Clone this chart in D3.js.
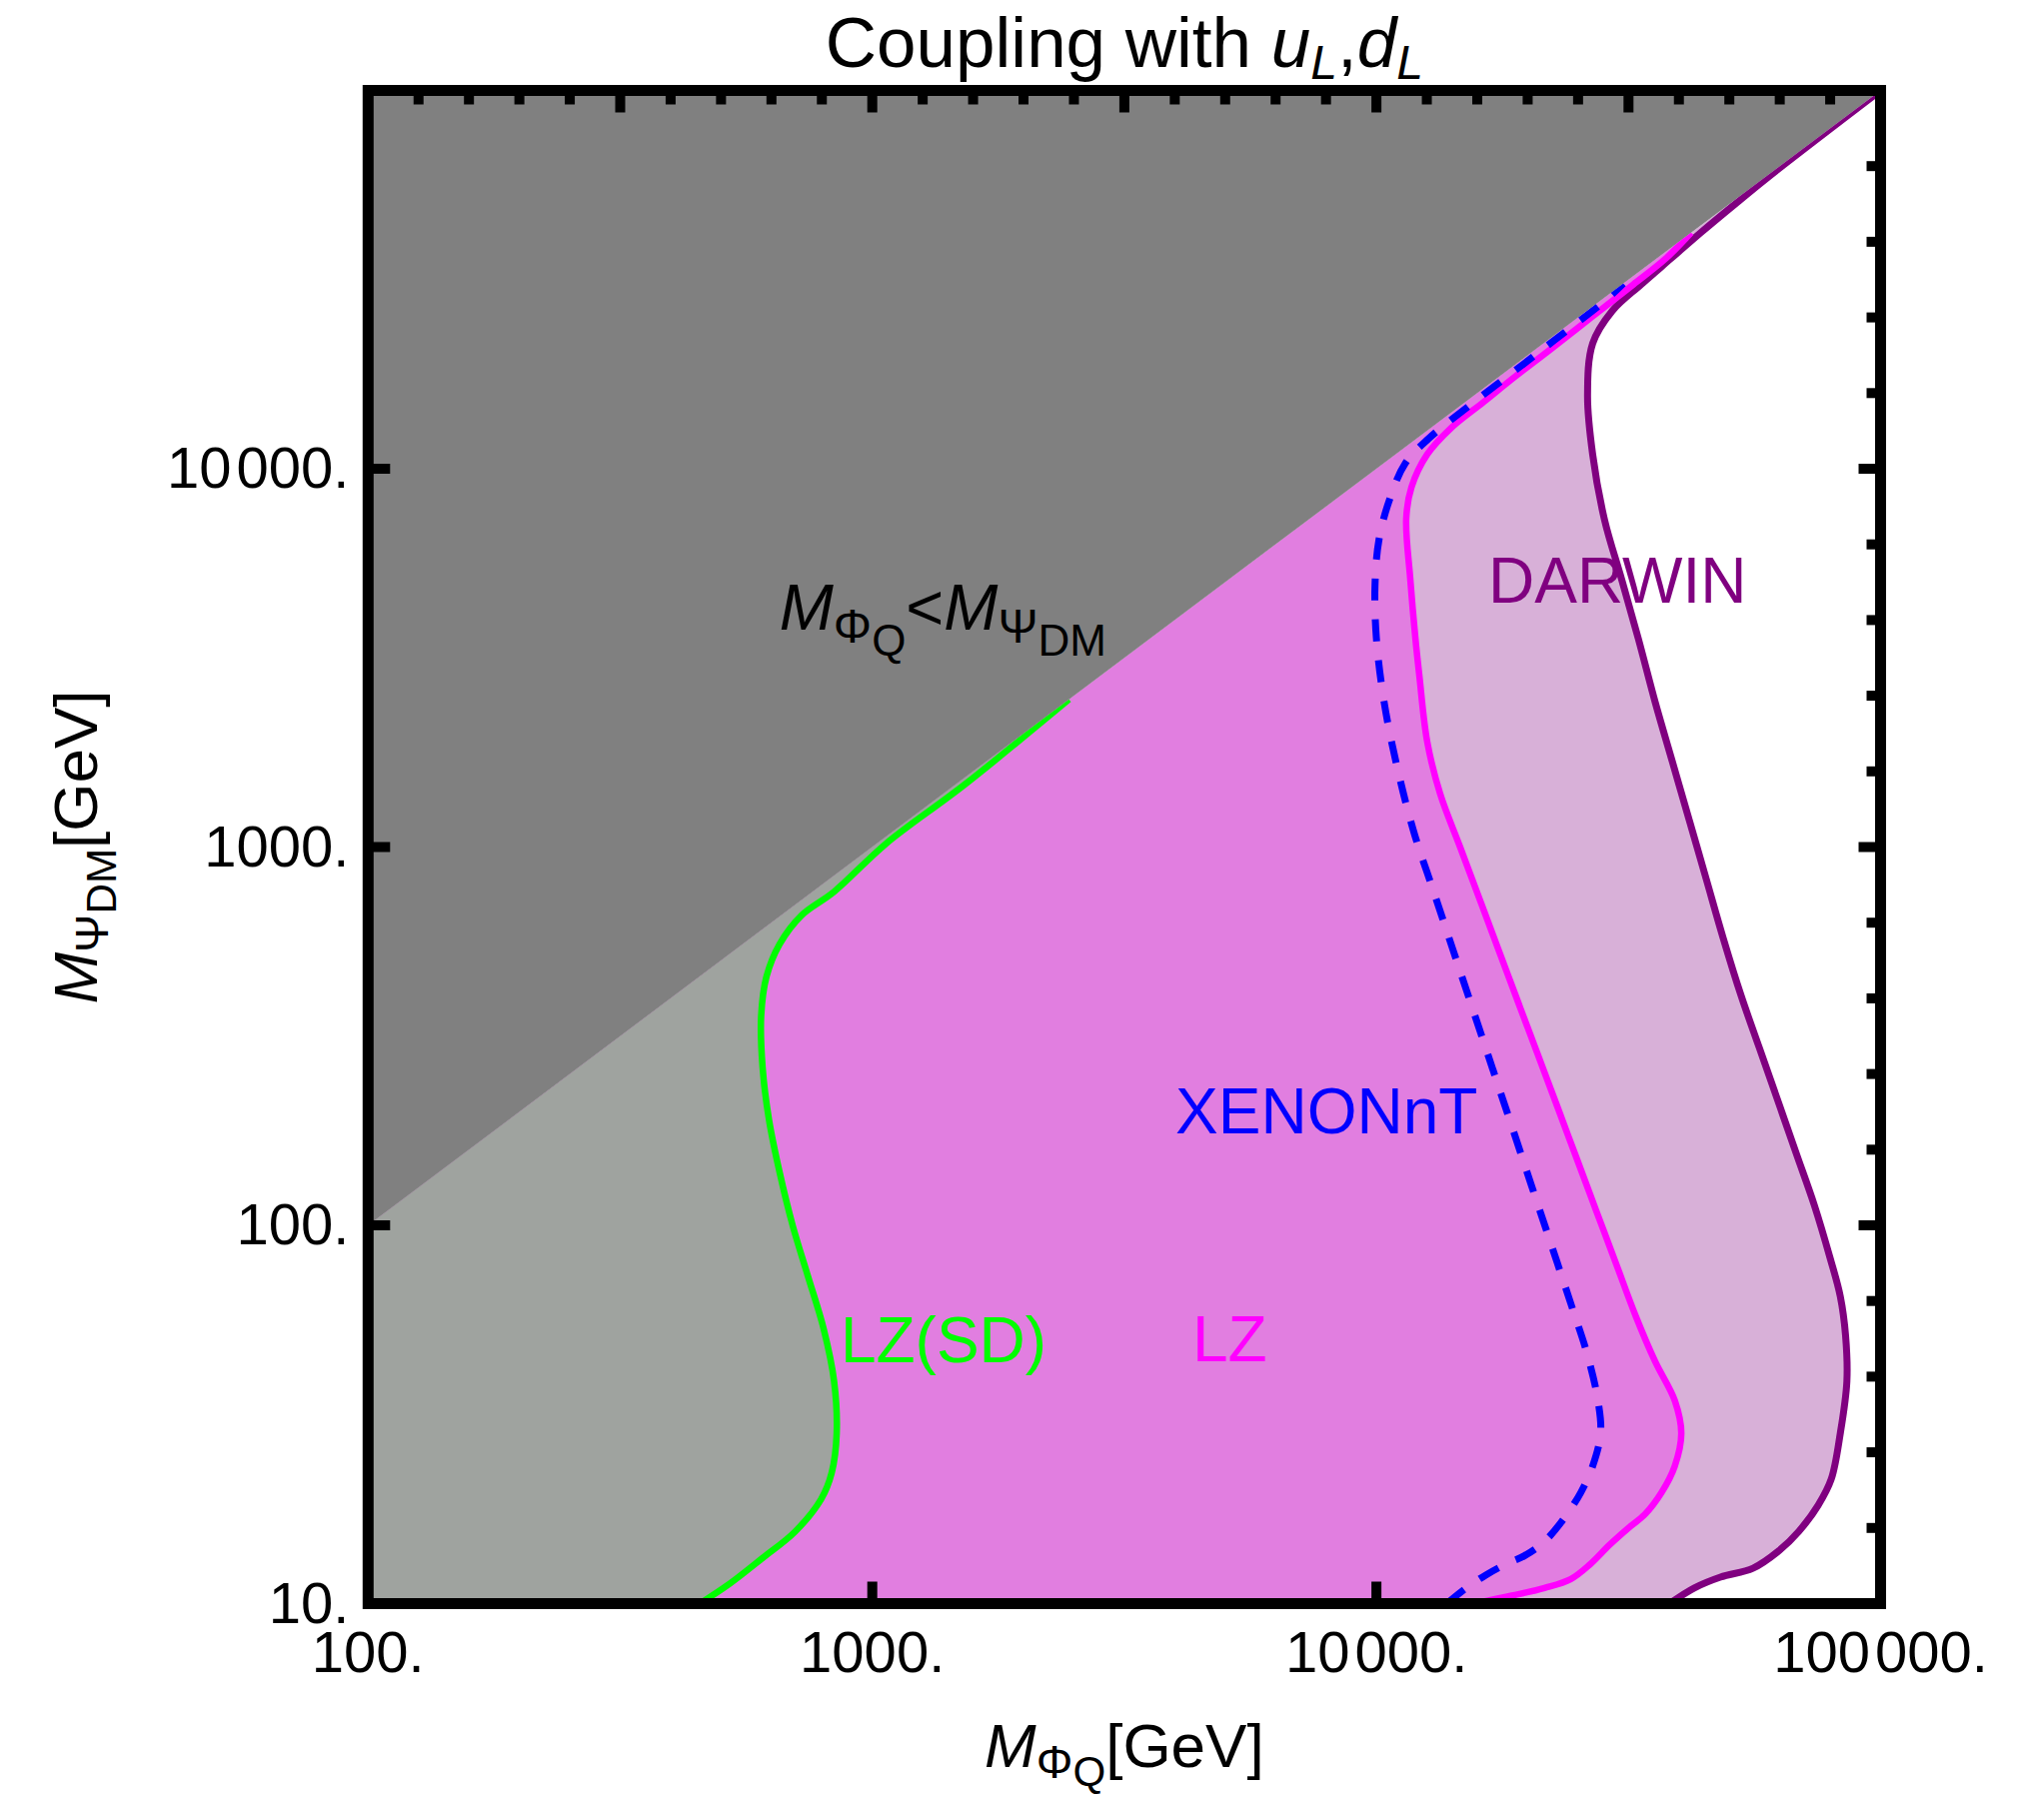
<!DOCTYPE html>
<html>
<head>
<meta charset="utf-8">
<script src="https://d3js.org/d3.v7.min.js"></script>
<style>
  body { margin: 0; background: #fff; }
  svg text { font-family: "Liberation Sans", Arial, sans-serif; }
</style>
</head>
<body>
<script>
// axis ranges and ticks
var xDomain = [100, 100000];
var yDomain = [10, 100000];
var xTickValues = [100, 1000, 10000, 100000];
var xTickLabels = [["100."], ["1000."], ["10", "000."], ["100", "000."]];
var yTickValues = [10, 100, 1000, 10000];
var yTickLabels = [["10."], ["100."], ["1000."], ["10", "000."]];

// exclusion contours, M_PhiQ (x) vs M_PsiDM (y) in GeV
var lzsdPhi = [455,522,606,703,792,831,850,840,801,746,695,655,624,606,602,617,655,724,840,1066,1524,2455];
var lzsdPsi = [10,11.3,13.2,15.5,18.9,22.2,28.2,38.7,53.2,73.1,100,138,190,261,358,455,554,660,762,1022,1461,2455];

var lzPhi = [15620,18570,21550,24270,26530,29010,31720,34070,36810,39070,40250,39070,35730,32680,29890,27330,25000,22870,20910,19120,17490,16000,14630,13380,12610,12170,11950,11670,11460,11740,12610,14040,16290,18900,22070,26690,32290,37480,42090];
var lzPsi = [10,10.5,11.0,11.6,12.7,14.3,15.9,17.2,19.7,23.1,28.2,34.4,43.6,57.6,79.1,108.7,149.4,205.3,282.2,387.7,532.6,732,1006,1382,1900,2827,3558,5129,7393,8946,10910,12790,14990,17580,20610,25130,30660,35940,42090];

var xenonPhi = [13790,15080,16480,18020,19700,21550,23560,25450,26850,27840,27510,26220,24270,22200,20300,18570,16980,15530,14200,12990,11880,11000,10360,9995,9936,10120,10610,11400,12690,15260,19700,23700,28250,30880];
var xenonPsi = [10,11.0,11.9,12.7,13.4,14.6,16.8,19.7,23.1,28.2,34.4,45.4,62.4,89.2,127.5,182.3,260.6,372.6,532.8,762,1089,1621,2412,3588,4931,6511,8263,10320,12010,14650,19030,23030,27650,30880];

var darwinPhi = [38150,42720,48120,55840,62890,68770,75200,79800,83200,85740,85230,83200,79340,73880,67960,62540,57530,52930,48690,45080,41720,38610,35730,33070,30610,28340,26850,26230,26850,29370,33460,38380,44020,50790,60000,100000];
var darwinPsi = [10,11.0,11.75,12.4,13.8,15.5,18.2,21.3,28.2,38.7,51.1,64.9,82.3,113.1,155.5,213.7,293.6,403.5,576.9,824.9,1180,1687,2412,3558,5129,7335,10910,15600,21440,26150,30660,35940,42120,49380,59200,100000];

var W = 2045, H = 1801;
var svg = d3.select("body").append("svg").attr("width", W).attr("height", H);

var x = d3.scaleLog().domain(xDomain).range([368.3, 1881.5]);
var y = d3.scaleLog().domain(yDomain).range([1604.5, 90.5]);

var zip = function(a, b){ return a.map(function(v, i){ return [v, b[i]]; }); };
var line = d3.line()
	.x(function(d){ return x(d[0]); })
	.y(function(d){ return y(d[1]); })
	.curve(d3.curveCatmullRom.alpha(0.5));
var pt = function(a, b){ return x(a) + "," + y(b); };

// region left of a contour and below the diagonal
var region = function(pts){
	return line(pts) + "L" + pt(100, 100) + "L" + pt(100, 10) + "Z";
};

var lzsd = zip(lzsdPhi, lzsdPsi);
var lz = zip(lzPhi, lzPsi);
var xenon = zip(xenonPhi, xenonPsi);
var darwin = zip(darwinPhi, darwinPsi);

svg.append("rect")
	.attr("x", x(100)).attr("y", y(100000))
	.attr("width", x(100000) - x(100)).attr("height", y(10) - y(100000))
	.attr("fill", "#ffffff");

svg.append("path").attr("d", region(darwin)).attr("fill", "#d8b0d8");
svg.append("path").attr("d", region(lz)).attr("fill", "#e17ee0");
svg.append("path").attr("d", region(lzsd)).attr("fill", "#9fa39f");

// M_Phi < M_Psi triangle
svg.append("path")
	.attr("d", "M" + pt(100, 100) + "L" + pt(100000, 100000) + "L" + pt(100, 100000) + "Z")
	.attr("fill", "#808080");

svg.append("clipPath").attr("id", "below")
	.append("path")
	.attr("d", "M" + pt(100, 10) + "L" + pt(100000, 10) + "L" + pt(100000, 100000) + "L" + pt(100, 100) + "Z");

var lines = svg.append("g").attr("clip-path", "url(#below)").attr("fill", "none");
lines.append("path").attr("d", line(darwin)).attr("stroke", "#800080").attr("stroke-width", 7);
lines.append("path").attr("d", line(lz)).attr("stroke", "#ff00ff").attr("stroke-width", 6.5);
lines.append("path").attr("d", line(xenon)).attr("stroke", "#0000ff").attr("stroke-width", 7)
	.attr("stroke-dasharray", "22,19");
lines.append("path").attr("d", line(lzsd)).attr("stroke", "#00ff00").attr("stroke-width", 6.5);

// frame and ticks
var ticks = svg.append("g").attr("stroke", "#000").attr("stroke-width", 10);
xTickValues.slice(1, -1).forEach(function(v){
	ticks.append("line").attr("x1", x(v)).attr("x2", x(v)).attr("y1", y(10)).attr("y2", y(10) - 22);
});
yTickValues.slice(1).forEach(function(v){
	ticks.append("line").attr("x1", x(100)).attr("x2", x(100) + 22).attr("y1", y(v)).attr("y2", y(v));
});
d3.range(1, 30).forEach(function(k){
	var v = Math.pow(10, 2 + k / 10), len = (k % 5 == 0) ? 22 : 14;
	ticks.append("line").attr("x1", x(v)).attr("x2", x(v)).attr("y1", y(100000)).attr("y2", y(100000) + len);
});
d3.range(1, 20).forEach(function(k){
	var v = Math.pow(10, 1 + k / 5), len = (k % 5 == 0) ? 22 : 14;
	ticks.append("line").attr("x1", x(100000)).attr("x2", x(100000) - len).attr("y1", y(v)).attr("y2", y(v));
});
svg.append("rect")
	.attr("x", x(100)).attr("y", y(100000))
	.attr("width", x(100000) - x(100)).attr("height", y(10) - y(100000))
	.attr("fill", "none").attr("stroke", "#000").attr("stroke-width", 11);

// tick labels (thin gap between digit groups)
var addNum = function(t, parts){
	t.text(parts[0]);
	if (parts.length > 1) t.append("tspan").attr("dx", 5).text(parts[1]);
};
xTickValues.forEach(function(v, i){
	var t = svg.append("text").attr("x", x(v)).attr("y", y(10) + 68.5)
		.attr("text-anchor", "middle").attr("font-size", 58);
	addNum(t, xTickLabels[i]);
});
yTickValues.forEach(function(v, i){
	var t = svg.append("text").attr("x", x(100) - 19).attr("y", y(v) + 19)
		.attr("text-anchor", "end").attr("font-size", 58);
	addNum(t, yTickLabels[i]);
});

// M with nested subscripts
var mathLabel = function(t, s, sub, subsub, tail){
	t.append("tspan").attr("font-style", "italic").attr("font-size", s).text("M");
	t.append("tspan").attr("font-size", s * 0.74).attr("dy", s * 0.17).text(sub);
	t.append("tspan").attr("font-size", s * 0.68).attr("dy", s * 0.13).text(subsub);
	if (tail) t.append("tspan").attr("font-size", s).attr("dy", -s * 0.3).text(tail);
};

// title
var title = svg.append("text").attr("x", (x(100) + x(100000)) / 2).attr("y", 67)
	.attr("text-anchor", "middle").attr("font-size", 71);
title.append("tspan").text("Coupling with ");
title.append("tspan").attr("font-style", "italic").text("u");
title.append("tspan").attr("font-style", "italic").attr("font-size", 48).attr("dy", 12).text("L");
title.append("tspan").attr("dy", -12).text(",");
title.append("tspan").attr("font-style", "italic").text("d");
title.append("tspan").attr("font-style", "italic").attr("font-size", 48).attr("dy", 12).text("L");

// axis labels
var xl = svg.append("text").attr("x", (x(100) + x(100000)) / 2).attr("y", 1768)
	.attr("text-anchor", "middle");
mathLabel(xl, 62, "\u03A6", "Q", "[GeV]");
var yl = svg.append("text").attr("transform", "translate(97," + y(1000) + ") rotate(-90)")
	.attr("text-anchor", "middle");
mathLabel(yl, 62, "\u03A8", "DM", "[GeV]");

// region annotations
var cond = svg.append("text").attr("x", x(654)).attr("y", y(3754)).attr("fill", "#000");
cond.append("tspan").attr("font-style", "italic").attr("font-size", 65).text("M");
cond.append("tspan").attr("font-size", 48).attr("dy", 13).text("\u03A6");
cond.append("tspan").attr("font-size", 44).attr("dy", 13).text("Q");
cond.append("tspan").attr("font-size", 65).attr("dy", -26).text("<");
cond.append("tspan").attr("font-style", "italic").attr("font-size", 65).text("M");
cond.append("tspan").attr("font-size", 48).attr("dy", 13).text("\u03A8");
cond.append("tspan").attr("font-size", 44).attr("dy", 13).text("DM");

var notes = [
	{text: "LZ(SD)", phi: 865, psi: 43.5, color: "#00ff00"},
	{text: "LZ", phi: 4315, psi: 43.7, color: "#ff00ff"},
	{text: "XENONnT", phi: 3995, psi: 175, color: "#0000ff"},
	{text: "DARWIN", phi: 16670, psi: 4426, color: "#800080"}
];
notes.forEach(function(n){
	svg.append("text").attr("x", x(n.phi)).attr("y", y(n.psi))
		.attr("font-size", 64).attr("fill", n.color).text(n.text);
});
</script>
</body>
</html>
